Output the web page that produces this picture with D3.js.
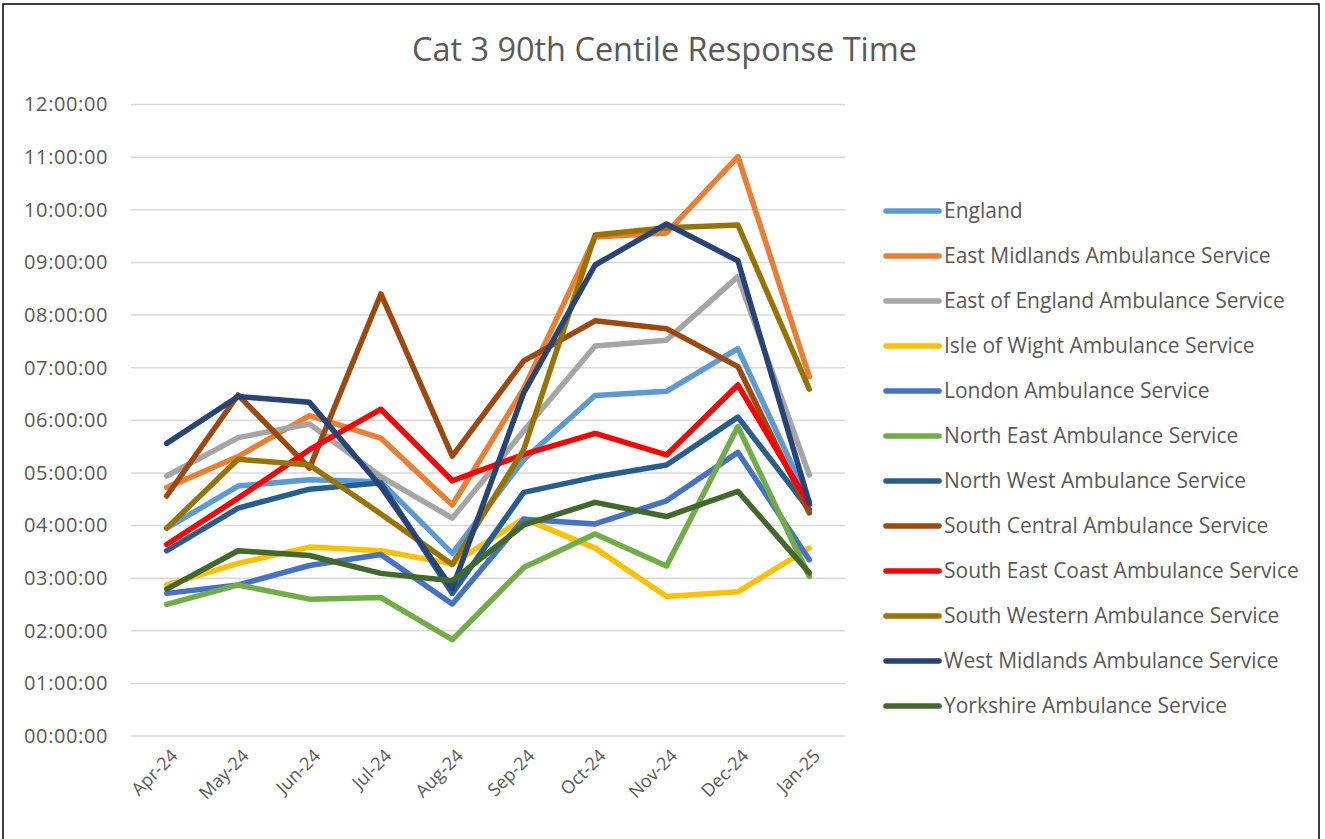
<!DOCTYPE html>
<html>
<head>
<meta charset="utf-8">
<script src="https://cdn.jsdelivr.net/npm/d3@7"></script>
<style>
  html, body { margin: 0; padding: 0; background: #fff; }
  svg { display: block; }
  text { font-family: "Open Sans", "Liberation Sans", sans-serif; fill: #595959; }
</style>
</head>
<body>
<svg id="chart" width="1325" height="839"></svg>
<script>
// ---- data (hours) ----
const months = ["Apr-24","May-24","Jun-24","Jul-24","Aug-24","Sep-24","Oct-24","Nov-24","Dec-24","Jan-25"];
const yTicks = [0,1,2,3,4,5,6,7,8,9,10,11,12];
const seriesNames = [
  "England",
  "East Midlands Ambulance Service",
  "East of England Ambulance Service",
  "Isle of Wight Ambulance Service",
  "London Ambulance Service",
  "North East Ambulance Service",
  "North West Ambulance Service",
  "South Central Ambulance Service",
  "South East Coast Ambulance Service",
  "South Western Ambulance Service",
  "West Midlands Ambulance Service",
  "Yorkshire Ambulance Service"
];
const seriesColors = ["#5B9BD5","#ED7D31","#A5A5A5","#FFC000","#4472C4","#70AD47","#255E91","#9E480E","#FF0000","#997300","#264478","#43682B"];
const england       = [3.95, 4.75, 4.87, 4.83, 3.47, 5.25, 6.47, 6.55, 7.36, 4.45];
const eastMidlands  = [4.72, 5.31, 6.09, 5.66, 4.39, 6.60, 9.48, 9.56, 11.01, 6.83];
const eastOfEngland = [4.94, 5.67, 5.93, 4.93, 4.14, 5.80, 7.41, 7.52, 8.73, 4.96];
const isleOfWight   = [2.87, 3.28, 3.59, 3.52, 3.27, 4.13, 3.57, 2.65, 2.74, 3.57];
const london        = [2.71, 2.87, 3.24, 3.45, 2.51, 4.12, 4.03, 4.47, 5.39, 3.35];
const northEast     = [2.50, 2.87, 2.60, 2.63, 1.83, 3.20, 3.84, 3.23, 5.88, 3.03];
const northWest     = [3.52, 4.33, 4.69, 4.81, 2.71, 4.63, 4.92, 5.15, 6.06, 4.30];
const southCentral  = [4.56, 6.48, 5.09, 8.40, 5.32, 7.13, 7.89, 7.74, 7.02, 4.24];
const southEastCoast= [3.64, 4.52, 5.44, 6.21, 4.85, 5.35, 5.75, 5.34, 6.67, 4.40];
const southWestern  = [3.95, 5.26, 5.15, 4.22, 3.26, 5.44, 9.52, 9.66, 9.71, 6.59];
const westMidlands  = [5.56, 6.45, 6.34, 4.74, 2.80, 6.52, 8.95, 9.73, 9.03, 4.43];
const yorkshire     = [2.79, 3.52, 3.43, 3.09, 2.95, 4.01, 4.44, 4.17, 4.65, 3.10];
const seriesValues = [england, eastMidlands, eastOfEngland, isleOfWight, london, northEast,
  northWest, southCentral, southEastCoast, southWestern, westMidlands, yorkshire];

// ---- layout ----
const svg = d3.select("#chart");
const plot = {left: 131, right: 845, top: 104.5, bottom: 736};

svg.append("rect").attr("x", 3).attr("y", 4).attr("width", 1316).attr("height", 850)
  .attr("fill", "#fff").attr("stroke", "#000").attr("stroke-width", 1.5);

svg.append("text").attr("x", 664.5).attr("y", 61).attr("text-anchor", "middle")
  .attr("textLength", 505).attr("lengthAdjust", "spacingAndGlyphs")
  .style("font-size", "32px").text("Cat 3 90th Centile Response Time");

const x = d3.scaleBand().domain(months).range([plot.left, plot.right]);
const y = d3.scaleLinear().domain([0, 12]).range([plot.bottom, plot.top]);

const fmt = h => String(h).padStart(2, "0") + ":00:00";

// gridlines
svg.append("g").selectAll("line").data(yTicks).join("line")
  .attr("x1", plot.left).attr("x2", plot.right)
  .attr("y1", d => y(d)).attr("y2", d => y(d))
  .attr("stroke", "#D9D9D9").attr("stroke-width", 1.5);

// y axis
const yAxis = svg.append("g").attr("transform", `translate(${plot.left},0)`)
  .call(d3.axisLeft(y).tickValues(yTicks).tickFormat(fmt).tickSize(0).tickPadding(23));
yAxis.select(".domain").remove();
yAxis.selectAll("text").style("font-size", "20px").style("fill", "#595959")
  .style("letter-spacing", "0.6px")
  .style("font-family", "'Open Sans', sans-serif");

// x axis
const xAxis = svg.append("g").attr("transform", `translate(0,${plot.bottom})`)
  .call(d3.axisBottom(x).tickSize(0).tickPadding(0));
xAxis.select(".domain").remove();
xAxis.selectAll("text")
  .style("font-size", "18px").style("fill", "#595959")
  .style("font-family", "'Open Sans', sans-serif")
  .attr("text-anchor", "end")
  .attr("dy", "0")
  .attr("transform", "translate(12,21) rotate(-45)");

// lines
const line = d3.line().x((d, i) => x(months[i]) + x.bandwidth() / 2).y(d => y(d));
svg.append("g").selectAll("path").data(seriesValues).join("path")
  .attr("d", d => line(d))
  .attr("fill", "none")
  .attr("stroke", (d, i) => seriesColors[i])
  .attr("stroke-width", 5.5)
  .attr("stroke-linejoin", "round")
  .attr("stroke-linecap", "round");

// legend
const legend = svg.append("g").attr("transform", "translate(886,211)");
const items = legend.selectAll("g").data(seriesNames).join("g")
  .attr("transform", (d, i) => `translate(0,${i * 45})`);
items.append("line").attr("x1", 0).attr("x2", 53).attr("y1", 0).attr("y2", 0)
  .attr("stroke", (d, i) => seriesColors[i]).attr("stroke-width", 5.5).attr("stroke-linecap", "round");
items.append("text").attr("x", 58).attr("y", 0).attr("dy", "0.35em")
  .style("font-size", "21px").text(d => d);
</script>
</body>
</html>
